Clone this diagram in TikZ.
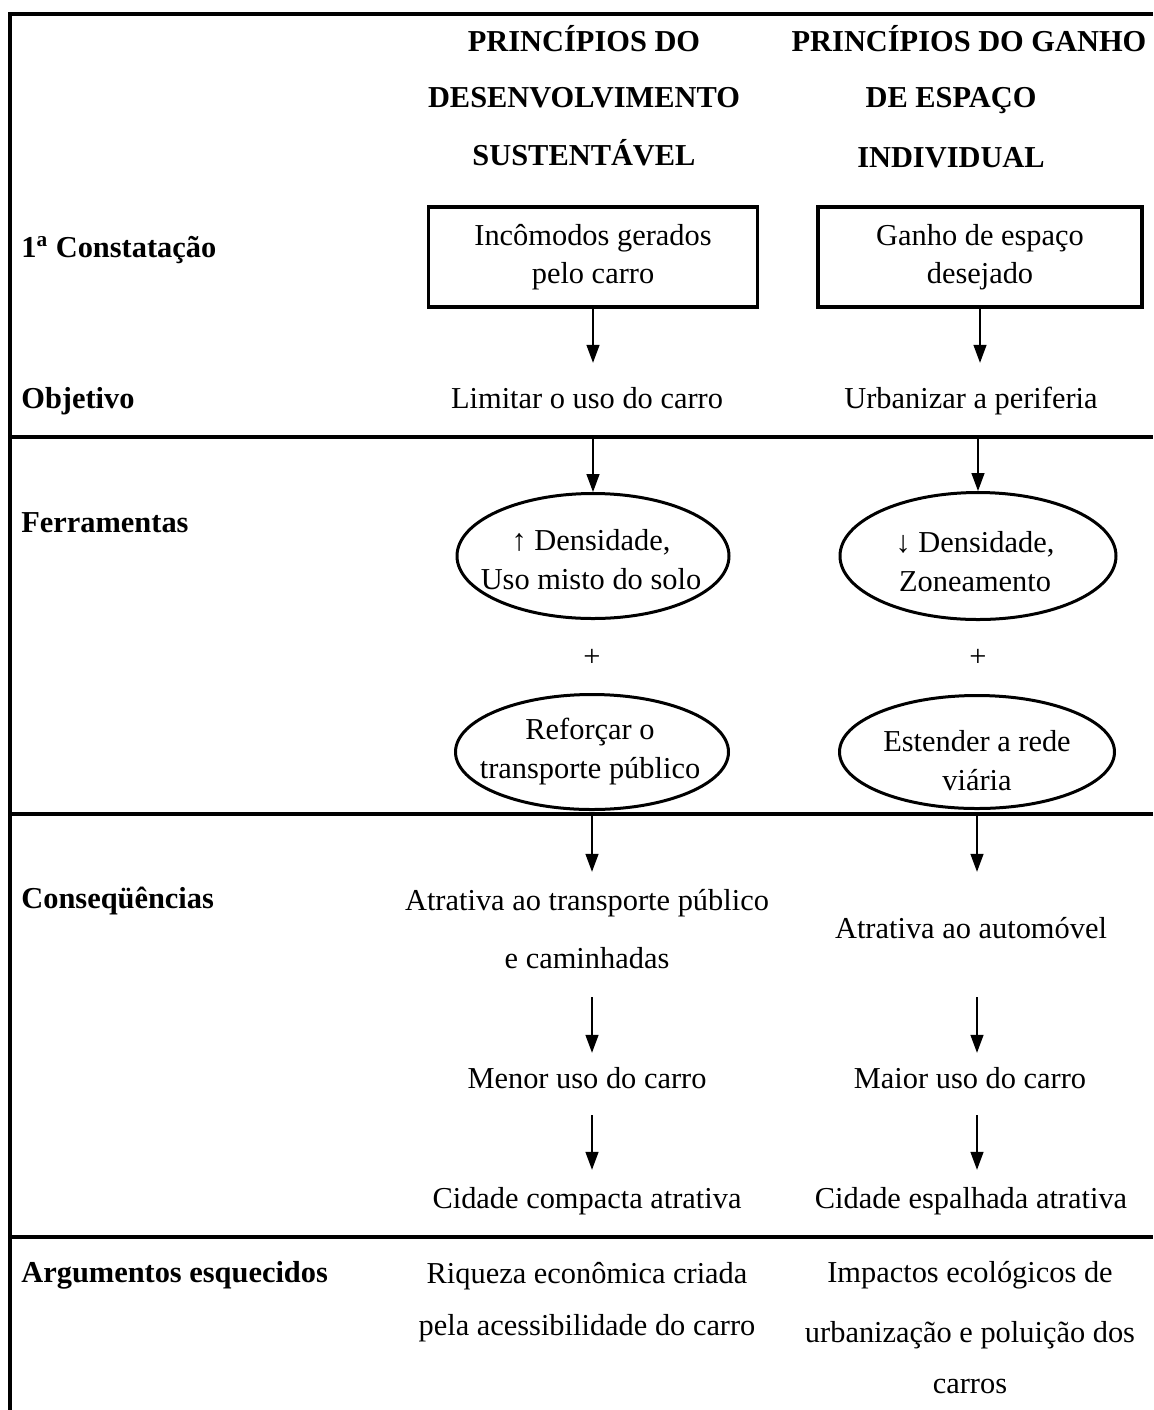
\documentclass[tikz,border=0pt]{standalone}
\usepackage{fontspec}
\setmainfont{Liberation Serif}
\usetikzlibrary{arrows.meta,shapes.geometric}
\begin{document}
\begin{tikzpicture}[x=0.5pt,y=-0.5pt,
  gridline/.style={line width=1.6pt},
  txt/.style={font=\fontsize{15.2}{19}\selectfont, inner sep=0pt, text height=10.5pt, text depth=3.3pt},
  tb/.style={txt, font=\bfseries\fontsize{15.2}{19}\selectfont},
  lab/.style={tb, anchor=west},
  boxn/.style={draw, line width=1.6pt, inner sep=0pt, align=center, minimum height=50pt, font=\fontsize{15.2}{19}\selectfont},
  elli/.style={draw, ellipse, line width=1.5pt, inner sep=0pt},
  etext/.style={inner sep=0pt, align=center, font=\fontsize{15.2}{19.5}\selectfont},
  arr/.style={-{Triangle[width=6.5pt,length=9pt]}, line width=0.7pt},
]
\useasboundingbox (0,0) rectangle (1153,1410);
% frame coordinates
\coordinate (T) at (10,14);
\coordinate (TR) at (1153,14);
\coordinate (L1) at (10,437);
\coordinate (L1R) at (1153,437);
\coordinate (L2) at (10,814);
\coordinate (L2R) at (1153,814);
\coordinate (L3) at (10,1237);
\coordinate (L3R) at (1153,1237);
\coordinate (B) at (10,1410);
\draw[gridline, line join=miter] (B) -- (T) -- (TR);
\draw[gridline] (L1) -- (L1R);
\draw[gridline] (L2) -- (L2R);
\draw[gridline] (L3) -- (L3R);

% headers
\node[tb] (h1a) at (584,44) {PRINCÍPIOS DO};
\node[tb] (h1b) at (584,100) {DESENVOLVIMENTO};
\node[tb] (h1c) at (584,158) {SUSTENTÁVEL};
\node[tb] (h2a) at (969,44) {PRINCÍPIOS DO GANHO};
\node[tb] (h2b) at (951,100) {DE ESPAÇO};
\node[tb] (h2c) at (951,160) {INDIVIDUAL};

% row labels
\node[lab] (l1) at (21,250) {1\textsuperscript{a} Constatação};
\node[lab] (l2) at (21,401) {Objetivo};
\node[lab] (l3) at (21,525) {Ferramentas};
\node[lab] (l4) at (21,901) {Conseqüências};
\node[lab] (l5) at (21,1275) {Argumentos esquecidos};

% first finding
\node[boxn, minimum width=164.5pt] (b1) at (593,257) {Incômodos gerados\\pelo carro};
\node[boxn, minimum width=162pt] (b2) at (980,257) {Ganho de espaço\\desejado};

% objectives
\node[txt] (o1) at (587,401) {Limitar o uso do carro};
\node[txt] (o2) at (971,401) {Urbanizar a periferia};

% tools
\node[elli, minimum width=136pt, minimum height=62.5pt] (e1) at (593,556) {};
\node[etext] (e1t) at (591,560) {↑ Densidade,\\Uso misto do solo};
\node[txt] (p1) at (592,659) {+};
\node[elli, minimum width=136.5pt, minimum height=57.5pt] (e2) at (592,752) {};
\node[etext] (e2t) at (590,752) {Reforçar o\\transporte público};

\node[elli, minimum width=138pt, minimum height=63.5pt] (e3) at (978,556) {};
\node[etext] (e3t) at (975,562) {↓ Densidade,\\Zoneamento};
\node[txt] (p2) at (978,659) {+};
\node[elli, minimum width=137.5pt, minimum height=56.5pt] (e4) at (977,752) {};
\node[etext] (e4t) at (977,761) {Estender a rede\\viária};

% consequences
\node[txt] (c1a) at (587,903) {Atrativa ao transporte público};
\node[txt] (c1b) at (587,961) {e caminhadas};
\node[txt] (c2) at (971,931) {Atrativa ao automóvel};
\node[txt] (m1) at (587,1081) {Menor uso do carro};
\node[txt] (m2) at (970,1081) {Maior uso do carro};
\node[txt] (k1) at (587,1201) {Cidade compacta atrativa};
\node[txt] (k2) at (971,1201) {Cidade espalhada atrativa};

% forgotten arguments
\node[txt] (r1a) at (587,1276) {Riqueza econômica criada};
\node[txt] (r1b) at (587,1328) {pela acessibilidade do carro};
\node[txt] (r2a) at (970,1275) {Impactos ecológicos de};
\node[txt] (r2b) at (970,1335) {urbanização e poluição dos};
\node[txt] (r2c) at (970,1386) {carros};

% arrows
\draw[arr, shorten >=12pt] (b1.south) -- (b1.south |- o1.north);
\draw[arr, shorten >=12pt] (b2.south) -- (b2.south |- o2.north);
\draw[arr] (e1.north |- L1) -- (e1.north);
\draw[arr] (e3.north |- L1) -- (e3.north);
\draw[arr, shorten >=8.5pt] (e2.south |- L2) -- (e2.south |- c1a.north);
\draw[arr, shorten >=22.5pt] (e4.south |- L2) -- (e4.south |- c2.north);
\draw[arr, shorten <=11pt, shorten >=7pt] (e2.south |- c1b.south) -- (e2.south |- m1.north);
\draw[arr, shorten <=26pt, shorten >=7pt] (e4.south |- c2.south) -- (e4.south |- m2.north);
\draw[arr, shorten <=10pt, shorten >=8.5pt] (e2.south |- m1.south) -- (e2.south |- k1.north);
\draw[arr, shorten <=10pt, shorten >=8.5pt] (e4.south |- m2.south) -- (e4.south |- k2.north);
\end{tikzpicture}
\end{document}
